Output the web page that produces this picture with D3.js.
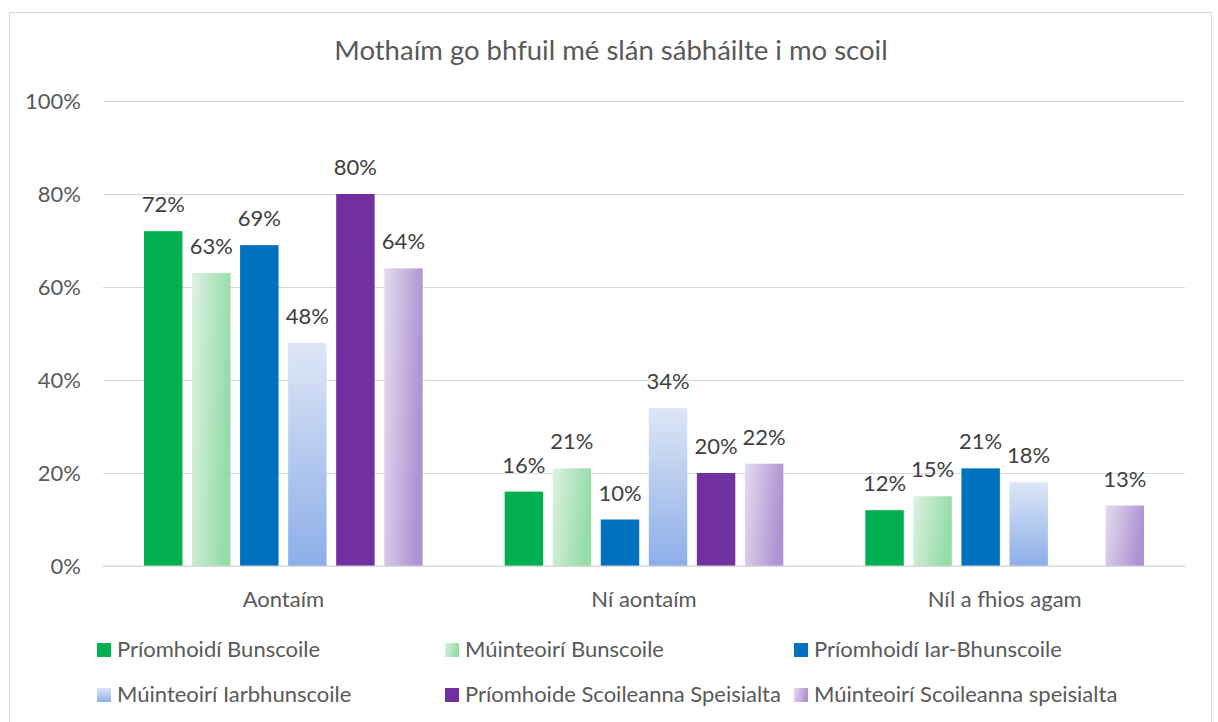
<!DOCTYPE html>
<html>
<head>
<meta charset="utf-8">
<script src="https://cdn.jsdelivr.net/npm/d3@7"></script>
<style>
  body { margin: 0; background: #fff; }
  svg text { font-family: Lato, "Open Sans", sans-serif; }
</style>
</head>
<body>
<script>
// chart data
var title = "Mothaím go bhfuil mé slán sábháilte i mo scoil";
var categories = ["Aontaím", "Ní aontaím", "Níl a fhios agam"];
var seriesNames = ["Príomhoidí Bunscoile", "Múinteoirí Bunscoile", "Príomhoidí Iar-Bhunscoile",
                   "Múinteoirí Iarbhunscoile", "Príomhoide Scoileanna Speisialta", "Múinteoirí Scoileanna speisialta"];
var pBun = [72, 16, 12];
var mBun = [63, 21, 15];
var pIar = [69, 10, 21];
var mIar = [48, 34, 18];
var pSpe = [80, 20, null];
var mSpe = [64, 22, 13];
var seriesValues = [pBun, mBun, pIar, mIar, pSpe, mSpe];
var yTicks = [0, 20, 40, 60, 80, 100];

var W = 1218, H = 722;
var margin = {top: 101, right: 33, bottom: 156, left: 103},
    width = W - margin.left - margin.right,
    height = H - margin.top - margin.bottom;
var fs = 22;

var svg = d3.select("body").append("svg")
    .attr("width", W)
    .attr("height", H);

// fills
var defs = svg.append("defs");
function grad(id, x2, y2, c1, c2) {
  var g = defs.append("linearGradient").attr("id", id)
      .attr("x1", 0).attr("y1", 0).attr("x2", x2).attr("y2", y2);
  g.append("stop").attr("offset", "0%").attr("stop-color", c1);
  g.append("stop").attr("offset", "100%").attr("stop-color", c2);
}
grad("gMBun", 1, 0.25, "#dcf2e2", "#95dca6");
grad("gMIar", 0, 1, "#dee6f6", "#8caee8");
grad("gMSpe", 1, 0.25, "#e4dcef", "#ae92d2");
var fills = ["#00b050", "url(#gMBun)", "#0070c0", "url(#gMIar)", "#7030a0", "url(#gMSpe)"];

// outer border
svg.append("rect")
    .attr("x", 9.5).attr("y", 12.5)
    .attr("width", 1202).attr("height", 730)
    .attr("fill", "none").attr("stroke", "#d9d9d9");

svg.append("text")
    .attr("x", 611).attr("y", 60)
    .attr("text-anchor", "middle")
    .attr("font-size", 27.5)
    .attr("fill", "#595959")
    .text(title);

var g = svg.append("g").attr("transform", "translate(" + margin.left + "," + margin.top + ")");

var x0 = d3.scaleBand().domain(categories).range([0, width]);
var x1 = d3.scaleBand().domain(d3.range(6))
    .range([41, x0.bandwidth() - 41]).paddingInner(0.2);
var y = d3.scaleLinear().domain([0, 100]).range([height, 0]);

// gridlines
g.append("g")
  .call(d3.axisLeft(y).tickValues(yTicks).tickSize(-width).tickFormat(function(d) { return d + "%"; }))
  .call(function(a) {
    a.select(".domain").remove();
    a.selectAll("line").attr("stroke", "#d9d9d9");
    a.selectAll("text").attr("x", -22).attr("font-size", fs).attr("fill", "#595959");
  });

// bars
var groups = g.selectAll(".grp")
  .data(categories)
  .enter().append("g")
    .attr("transform", function(d) { return "translate(" + x0(d) + ",0)"; });

groups.each(function(cat, ci) {
  var rows = seriesValues.map(function(s, si) { return {si: si, v: s[ci]}; })
      .filter(function(d) { return d.v != null; });
  var sel = d3.select(this);
  sel.selectAll("rect").data(rows).enter().append("rect")
      .attr("x", function(d) { return x1(d.si); })
      .attr("width", x1.bandwidth())
      .attr("y", function(d) { return y(d.v); })
      .attr("height", function(d) { return height - y(d.v); })
      .attr("fill", function(d) { return fills[d.si]; });
  sel.selectAll("text").data(rows).enter().append("text")
      .attr("x", function(d) { return x1(d.si) + x1.bandwidth() / 2; })
      .attr("y", function(d) { return y(d.v) - 19; })
      .attr("text-anchor", "middle")
      .attr("font-size", fs)
      .attr("fill", "#404040")
      .text(function(d) { return d.v + "%"; });
});

// baseline + category labels
g.append("line").attr("x1", 0).attr("x2", width).attr("y1", height).attr("y2", height)
    .attr("stroke", "#d9d9d9");
g.selectAll(".cat").data(categories).enter().append("text")
    .attr("x", function(d) { return x0(d) + x0.bandwidth() / 2; })
    .attr("y", height + 41)
    .attr("text-anchor", "middle")
    .attr("font-size", fs)
    .attr("fill", "#595959")
    .text(function(d) { return d; });

// legend
var legX = [97, 445, 794], legY = [657, 702];
var leg = svg.selectAll(".leg").data(seriesNames).enter().append("g")
    .attr("transform", function(d, i) { return "translate(" + legX[i % 3] + "," + legY[Math.floor(i / 3)] + ")"; });
leg.append("rect").attr("x", 0).attr("y", -14).attr("width", 14).attr("height", 14)
    .attr("fill", function(d, i) { return fills[i]; });
leg.append("text").attr("x", 20).attr("y", 0)
    .attr("font-size", fs).attr("fill", "#595959")
    .text(function(d) { return d; });
</script>
</body>
</html>
